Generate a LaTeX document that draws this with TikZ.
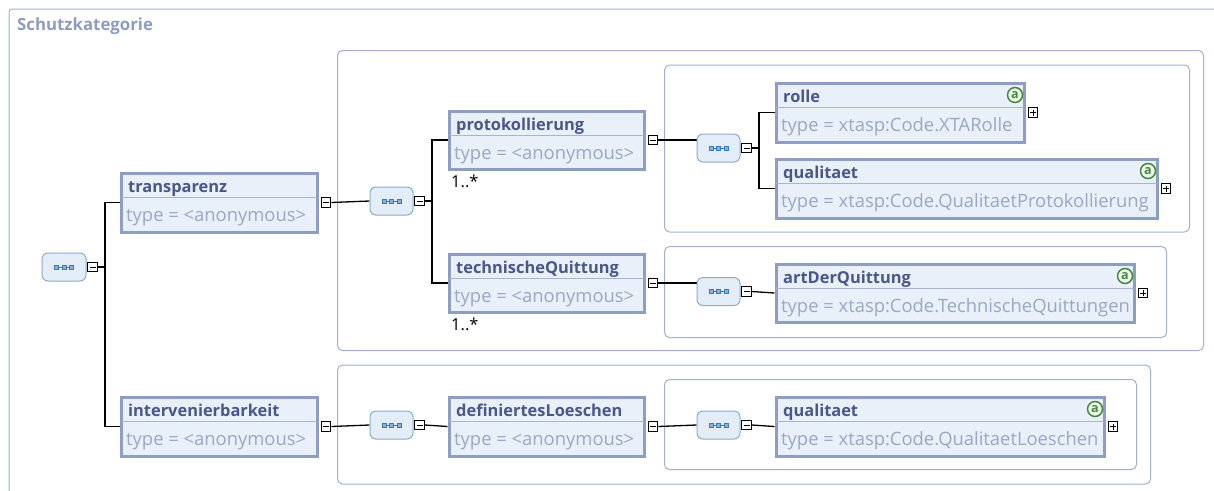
\documentclass[tikz,border=0pt]{standalone}
\usepackage{fontspec}
\setmainfont{Open Sans}
\usetikzlibrary{calc}

\definecolor{framec}{HTML}{A3B0CB}
\definecolor{titlec}{HTML}{8D9CBF}
\definecolor{elemborder}{HTML}{8E9EC3}
\definecolor{elemfill}{HTML}{E9F0FA}
\definecolor{divc}{HTML}{A7B5D3}
\definecolor{namec}{HTML}{4A5788}
\definecolor{typec}{HTML}{9AA7C5}
\definecolor{seqborder}{HTML}{8FAACB}
\definecolor{seqfill}{HTML}{E3EDF7}
\definecolor{seqicon}{HTML}{3A7BBD}
\definecolor{attrc}{HTML}{3F8A3C}
\definecolor{attrfill}{HTML}{EEF7EA}

\pgfdeclarelayer{bg}
\pgfsetlayers{bg,main}

\tikzset{
  frame/.style={draw=framec, line width=1pt, rounded corners=3pt},
  cont/.style={draw=framec, line width=1pt, rounded corners=5pt, inner sep=0pt, anchor=north west},
  elem/.style={draw=elemborder, fill=elemfill, line width=3pt, inner sep=0pt, anchor=north west},
  divider/.style={draw=divc, line width=1.5pt},
  titletext/.style={font=\fontsize{16.8}{18}\selectfont\bfseries, text=titlec, inner sep=0pt, anchor=base west},
  nametext/.style={font=\fontsize{16.4}{18}\selectfont\bfseries, text=namec, inner sep=0pt, anchor=base west},
  typetext/.style={font=\fontsize{18.4}{20}\selectfont, text=typec, inner sep=0pt, anchor=base west},
  mult/.style={font=\fontsize{16.5}{18}\selectfont, text=black, inner sep=0pt, anchor=base west},
  attr/.style={circle, draw=attrc, line width=1.5pt, fill=attrfill, minimum size=15pt, inner sep=0pt,
    text=attrc, font=\fontsize{12.5}{12.5}\selectfont\bfseries},
  toggle/.style={draw=black, fill=white, line width=1.2pt, minimum size=9.5pt, inner sep=0pt},
  tgminus/.style={toggle, path picture={
      \draw[line width=1pt] ([xshift=-3pt]path picture bounding box.center) -- ([xshift=3pt]path picture bounding box.center);}},
  tgplus/.style={toggle, path picture={
      \draw[line width=1pt] ([xshift=-3pt]path picture bounding box.center) -- ([xshift=3pt]path picture bounding box.center);
      \draw[line width=1pt] ([yshift=-3pt]path picture bounding box.center) -- ([yshift=3pt]path picture bounding box.center);}},
  seqbox/.style={draw=seqborder, fill=seqfill, line width=1pt, rounded corners=6pt,
    minimum width=43pt, minimum height=28pt, inner sep=0pt,
    path picture={
      \draw[seqicon, sharp corners, line width=0.7pt] ([xshift=-8pt]path picture bounding box.center) -- ([xshift=8pt]path picture bounding box.center);
      \foreach \d in {-7.5,0,7.5}
        \filldraw[sharp corners, draw=seqicon, fill=seqicon!60, line width=0.6pt]
          ([xshift=\d pt]path picture bounding box.center) +(-1.8,-1.8) rectangle +(1.8,1.8);}},
  conn/.style={draw=black, line width=1.3pt},
}

% element box: id, left, top, right, bottom, name, type, toggle style
\newcommand\xsdelem[8]{%
  \node[elem, minimum width={#4-#2-3}, minimum height={#5-#3-3}] (#1) at ({#2+1.5},{#3+1.5}) {};
  \draw[divider] ([xshift=1.5pt,yshift=-26pt]#1.north west) -- ([xshift=-1.5pt,yshift=-26pt]#1.north east);
  \node[nametext] (#1-n) at ([xshift=8.5pt,yshift=-21.2pt]#1.north west) {#6};
  \node[typetext] (#1-t) at ([xshift=6.5pt,yshift=-50.2pt]#1.north west) {#7};
  \node[#8] (#1-s) at ([xshift=7.5pt]#1.east) {};
}
% attribute marker in the element header
\newcommand\xsdattr[1]{%
  \node[attr] (#1-a) at ([xshift=-10.5pt,yshift=-13.5pt]#1.north east) {a};
}
% sequence compositor with its collapse toggle
\newcommand\xsdseq[3]{%
  \node[seqbox] (#1) at (#2,#3) {};
  \node[tgminus] (#1-s) at ([xshift=6pt]#1.east) {};
}
% group frame
\newcommand\xsdcont[5]{%
  \node[cont, minimum width={#4-#2}, minimum height={#5-#3}] (#1) at (#2,#3) {};
}

\begin{document}
\begin{tikzpicture}[x=1pt,y=-1pt]
\useasboundingbox (0,0) rectangle (1214,490);

% outer frame and title
\draw[frame] (9,500) -- (9,9) -- (1224,9);
\node[titletext] (title) at (17,30) {Schutzkategorie};

% compositors
\node[seqbox, minimum width=44pt] (s0) at (64,267) {};
\node[tgminus] (s0-s) at ([xshift=6pt]s0.east) {};
\xsdseq{s1}{391.5}{201}
\xsdseq{s1a}{718.5}{148}
\xsdseq{s1b}{718.5}{291.5}
\xsdseq{s2}{391.5}{425}
\xsdseq{s2a}{718.5}{425}

% elements
\xsdelem{transparenz}{118}{170}{317}{232}{transparenz}{type = <anonymous>}{tgminus}
\xsdelem{intervenierbarkeit}{118}{394}{317}{456}{intervenierbarkeit}{type = <anonymous>}{tgminus}
\xsdelem{protokollierung}{446}{108}{644}{169}{protokollierung}{type = <anonymous>}{tgminus}
\xsdelem{technischeQuittung}{446}{251}{644}{312}{technischeQuittung}{type = <anonymous>}{tgminus}
\xsdelem{rolle}{773}{80}{1024}{142}{rolle}{type = xtasp:Code.XTARolle}{tgplus}
\xsdattr{rolle}
\xsdelem{qualitaet}{773}{156}{1157}{218}{qualitaet}{type = xtasp:Code.QualitaetProtokollierung}{tgplus}
\xsdattr{qualitaet}
\xsdelem{artDerQuittung}{773}{261}{1134}{322}{artDerQuittung}{type = xtasp:Code.TechnischeQuittungen}{tgplus}
\xsdattr{artDerQuittung}
\xsdelem{definiertesLoeschen}{446}{394}{644}{456}{definiertesLoeschen}{type = <anonymous>}{tgminus}
\xsdelem{qualitaetL}{773}{394}{1104}{456}{qualitaet}{type = xtasp:Code.QualitaetLoeschen}{tgplus}
\xsdattr{qualitaetL}

% occurrence labels
\node[mult] (protokollierung-m) at (451,187) {1..*};
\node[mult] (technischeQuittung-m) at (451,330) {1..*};

\begin{pgfonlayer}{bg}
  % group frames
  \xsdcont{c1}{337}{50}{1203}{350}
  \xsdcont{c1a}{664}{64.5}{1189}{231.5}
  \xsdcont{c1b}{664}{246}{1166}{337}
  \xsdcont{c2}{337}{364.5}{1150}{483.5}
  \xsdcont{c2a}{664}{379}{1136}{469}

  % connectors
  \coordinate (j0) at (105,267);
  \coordinate (j1) at (432,201);
  \coordinate (j1a) at (759,148);
  \draw[conn] (s0-s.east) -- (j0);
  \draw[conn] (transparenz.west) -| (j0) |- (intervenierbarkeit.west);
  \draw[conn] (transparenz-s.east) -- (s1.west);
  \draw[conn] (s1-s.east) -- (j1);
  \draw[conn] (protokollierung.west) -| (j1) |- (technischeQuittung.west);
  \draw[conn] (protokollierung-s.east) -- (protokollierung-s.east -| s1a.west);
  \draw[conn] (s1a-s.east) -- (j1a);
  \draw[conn] (rolle.west) -| (j1a) |- (qualitaet.west);
  \draw[conn] (technischeQuittung-s.east) -- (technischeQuittung-s.east -| s1b.west);
  \draw[conn] (s1b-s.east) -- (artDerQuittung.west);
  \draw[conn] (intervenierbarkeit-s.east) -- (s2.west);
  \draw[conn] (s2-s.east) -- (definiertesLoeschen.west);
  \draw[conn] (definiertesLoeschen-s.east) -- (s2a.west);
  \draw[conn] (s2a-s.east) -- (qualitaetL.west);
\end{pgfonlayer}
\end{tikzpicture}
\end{document}
